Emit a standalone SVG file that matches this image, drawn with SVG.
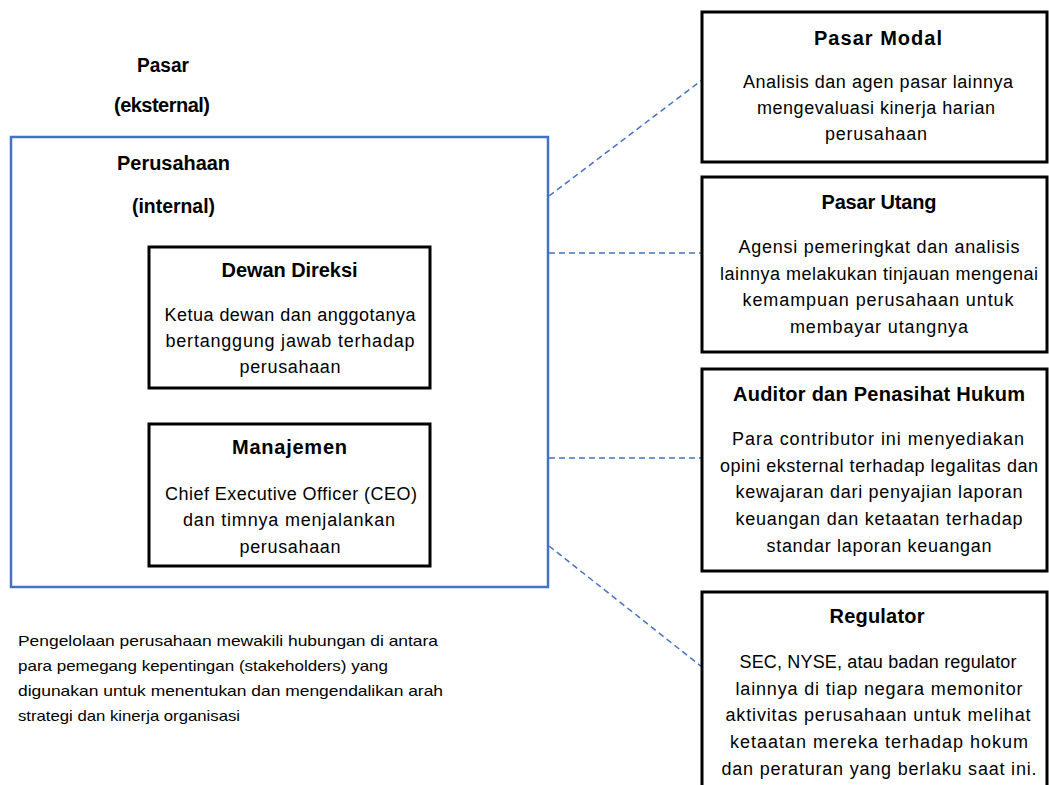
<svg xmlns="http://www.w3.org/2000/svg" width="1049" height="785" viewBox="0 0 1049 785">
<style>
text{font-family:"Liberation Sans",Arial,sans-serif;fill:#000;}
.t{font-size:20px;font-weight:bold;text-anchor:middle;}
.b{font-size:18px;text-anchor:middle;}
.f{font-size:15px;}
.box{fill:#fff;stroke:#000;stroke-width:3;}
.outer{fill:none;stroke:#4472C4;stroke-width:2.5;}
.con{stroke:#4472C4;stroke-width:1.5;stroke-dasharray:6 4;fill:none;}
</style>
<rect width="1049" height="785" fill="#fff"/>
<g id="pasar-label">
<text class="t" x="163" y="72" textLength="52" lengthAdjust="spacingAndGlyphs">Pasar</text>
<text class="t" x="162" y="112" textLength="96" lengthAdjust="spacing">(eksternal)</text>
</g>
<g id="perusahaan">
<rect class="outer" x="11" y="137" width="537" height="450"/>
<text class="t" x="173.5" y="170" textLength="113" lengthAdjust="spacingAndGlyphs">Perusahaan</text>
<text class="t" x="173.5" y="213" textLength="83" lengthAdjust="spacingAndGlyphs">(internal)</text>
</g>
<g id="connectors">
<line class="con" x1="549" y1="196" x2="702" y2="80"/>
<line class="con" x1="549" y1="253" x2="702" y2="253"/>
<line class="con" x1="549" y1="458" x2="702" y2="458"/>
<line class="con" x1="549" y1="546" x2="702" y2="667"/>
</g>
<g id="dewan-direksi">
<rect class="box" x="149" y="247" width="281" height="141"/>
<text class="t" x="289.5" y="277" textLength="136" lengthAdjust="spacing">Dewan Direksi</text>
<text class="b" x="290" y="321" textLength="251" lengthAdjust="spacing">Ketua dewan dan anggotanya</text>
<text class="b" x="290" y="347" textLength="249" lengthAdjust="spacing">bertanggung jawab terhadap</text>
<text class="b" x="290" y="373" textLength="101" lengthAdjust="spacing">perusahaan</text>
</g>
<g id="manajemen">
<rect class="box" x="149" y="424" width="281" height="142"/>
<text class="t" x="289.5" y="454" textLength="115" lengthAdjust="spacing">Manajemen</text>
<text class="b" x="291" y="500" textLength="252" lengthAdjust="spacing">Chief Executive Officer (CEO)</text>
<text class="b" x="289" y="526" textLength="212" lengthAdjust="spacing">dan timnya menjalankan</text>
<text class="b" x="290" y="553" textLength="101" lengthAdjust="spacing">perusahaan</text>
</g>
<g id="pasar-modal">
<rect class="box" x="702" y="12" width="345" height="150"/>
<text class="t" x="878" y="45" textLength="128" lengthAdjust="spacing">Pasar Modal</text>
<text class="b" x="878" y="88" textLength="270" lengthAdjust="spacing">Analisis dan agen pasar lainnya</text>
<text class="b" x="876" y="114" textLength="238" lengthAdjust="spacing">mengevaluasi kinerja harian</text>
<text class="b" x="876" y="140" textLength="102" lengthAdjust="spacing">perusahaan</text>
</g>
<g id="pasar-utang">
<rect class="box" x="702" y="177" width="345" height="175"/>
<text class="t" x="879" y="209" textLength="115" lengthAdjust="spacing">Pasar Utang</text>
<text class="b" x="879" y="253" textLength="281" lengthAdjust="spacing">Agensi pemeringkat dan analisis</text>
<text class="b" x="879" y="280" textLength="318" lengthAdjust="spacing">lainnya melakukan tinjauan mengenai</text>
<text class="b" x="878" y="306" textLength="271" lengthAdjust="spacing">kemampuan perusahaan untuk</text>
<text class="b" x="879" y="333" textLength="178" lengthAdjust="spacing">membayar utangnya</text>
</g>
<g id="auditor">
<rect class="box" x="702" y="369" width="345" height="202"/>
<text class="t" x="879" y="401" textLength="292" lengthAdjust="spacing">Auditor dan Penasihat Hukum</text>
<text class="b" x="878" y="445" textLength="292" lengthAdjust="spacing">Para contributor ini menyediakan</text>
<text class="b" x="879" y="472" textLength="318" lengthAdjust="spacing">opini eksternal terhadap legalitas dan</text>
<text class="b" x="879" y="498" textLength="287" lengthAdjust="spacing">kewajaran dari penyajian laporan</text>
<text class="b" x="879" y="525" textLength="287" lengthAdjust="spacing">keuangan dan ketaatan terhadap</text>
<text class="b" x="879" y="552" textLength="225" lengthAdjust="spacing">standar laporan keuangan</text>
</g>
<g id="regulator">
<rect class="box" x="702" y="592" width="345" height="210"/>
<text class="t" x="877" y="623" textLength="95" lengthAdjust="spacing">Regulator</text>
<text class="b" x="878" y="668" textLength="277" lengthAdjust="spacing">SEC, NYSE, atau badan regulator</text>
<text class="b" x="879" y="695" textLength="287" lengthAdjust="spacing">lainnya di tiap negara memonitor</text>
<text class="b" x="878" y="721" textLength="305" lengthAdjust="spacing">aktivitas perusahaan untuk melihat</text>
<text class="b" x="879" y="748" textLength="298" lengthAdjust="spacing">ketaatan mereka terhadap hokum</text>
<text class="b" x="879" y="775" textLength="315" lengthAdjust="spacing">dan peraturan yang berlaku saat ini.</text>
</g>
<g id="footer">
<text class="f" x="18" y="646" textLength="420" lengthAdjust="spacingAndGlyphs">Pengelolaan perusahaan mewakili hubungan di antara</text>
<text class="f" x="18" y="671" textLength="370" lengthAdjust="spacingAndGlyphs">para pemegang kepentingan (stakeholders) yang</text>
<text class="f" x="18" y="696" textLength="425" lengthAdjust="spacingAndGlyphs">digunakan untuk menentukan dan mengendalikan arah</text>
<text class="f" x="18" y="721" textLength="222" lengthAdjust="spacingAndGlyphs">strategi dan kinerja organisasi</text>
</g>
</svg>
